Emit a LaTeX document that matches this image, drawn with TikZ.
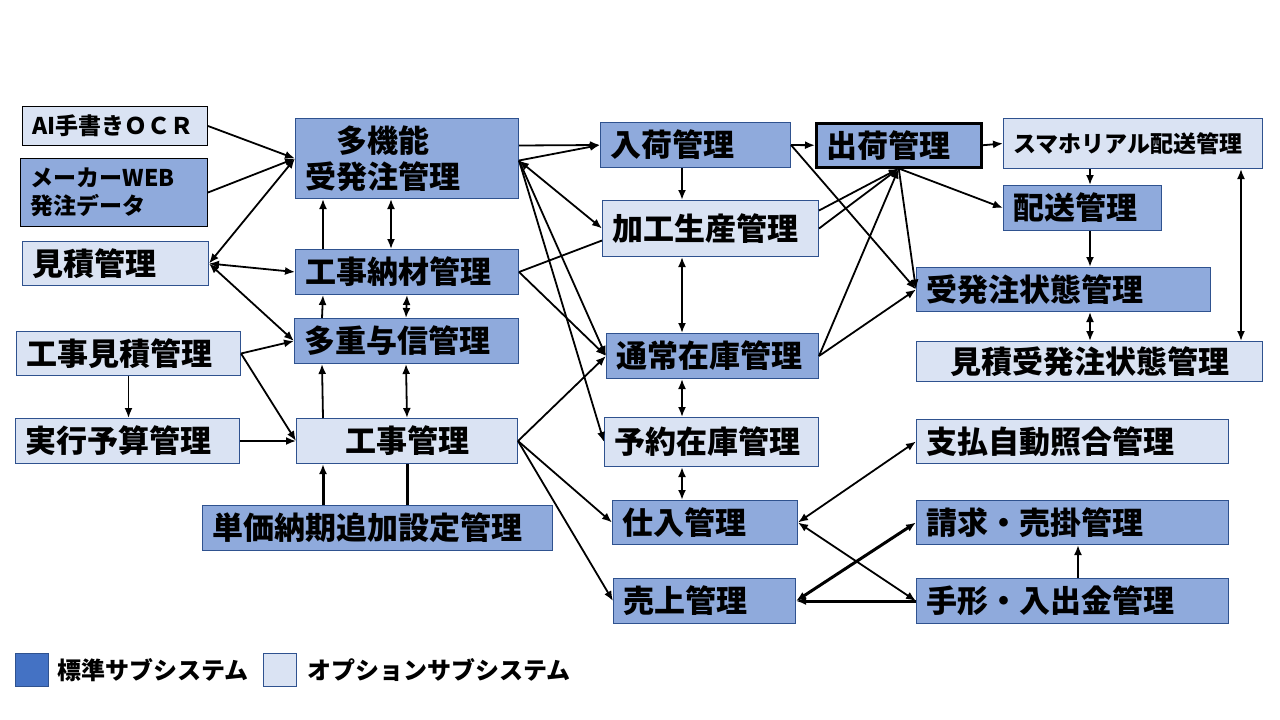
\documentclass[tikz,border=0pt]{standalone}
\usepackage{fontspec}
\setmainfont{Noto Sans CJK JP}
\usetikzlibrary{arrows.meta}

\definecolor{stdblue}{HTML}{8FAADC}
\definecolor{optblue}{HTML}{DAE3F3}
\definecolor{legblue}{HTML}{4472C4}
\definecolor{edgeblue}{HTML}{2F528F}

\tikzset{
    sys/.style={draw=edgeblue, line width=1pt, anchor=north west, inner xsep=10pt, inner ysep=0pt, align=left},
    std/.style={sys, fill=stdblue},
    opt/.style={sys, fill=optblue},
    big/.style={font=\fontsize{31}{36}\selectfont\bfseries},
    small/.style={font=\fontsize{23}{28}\selectfont\bfseries},
    arr/.style={-{Latex[length=10pt,width=8pt]}, line width=1.8pt},
    dbl/.style={{Latex[length=10pt,width=8pt]}-{Latex[length=10pt,width=8pt]}, line width=1.8pt},
}

\begin{document}
\begin{tikzpicture}[x=1pt, y=-1pt]
    \useasboundingbox (0,0) rectangle (1280,720);
    %input side
    \node[opt, small, draw=black, text width=165pt, minimum height=39pt] (ocr) at (22,106) {AI手書きＯＣＲ};
    \node[std, small, draw=black, text width=167pt, minimum height=68pt] (maker) at (20,158) {メーカーWEB\\発注データ};
    \node[opt, big, text width=166pt, minimum height=44pt] (mitsumori) at (22,241) {見積管理};
    \node[opt, big, text width=204pt, minimum height=44pt] (kmitsu) at (16,331) {工事見積管理};
    \node[opt, big, text width=204pt, minimum height=45pt] (yosan) at (15,418) {実行予算管理};
    %middle column
    \node[std, big, text width=203pt, minimum height=80pt] (tako) at (295,118) {　多機能\\受発注管理};
    \node[std, big, text width=203pt, minimum height=45pt] (nozai) at (295,249) {工事納材管理};
    \node[std, big, text width=204pt, minimum height=45pt] (yoshin) at (294,318) {多重与信管理};
    \node[opt, big, text width=201pt, minimum height=45pt, align=center] (koji) at (296,418) {工事管理};
    \node[std, big, text width=330pt, minimum height=45pt] (tanka) at (202,505) {単価納期追加設定管理};
    %stock column
    \node[std, big, text width=170pt, minimum height=45pt] (nyuka) at (600,122) {入荷管理};
    \node[opt, big, text width=196pt, minimum height=56pt] (kako) at (602,200) {加工生産管理};
    \node[std, big, text width=192pt, minimum height=45pt] (tsujo) at (606,333) {通常在庫管理};
    \node[opt, big, text width=194pt, minimum height=49pt] (yoyaku) at (604,417) {予約在庫管理};
    \node[std, big, text width=165pt, minimum height=44pt] (shiire) at (612,500) {仕入管理};
    \node[std, big, text width=162pt, minimum height=45pt] (uriage) at (613,578) {売上管理};
    %right side
    \node[std, big, draw=black, line width=2.5pt, text width=145pt, minimum height=44pt] (shukka) at (815,122) {出荷管理};
    \node[opt, small, text width=239pt, minimum height=50pt] (smaho) at (1003,118) {スマホリアル配送管理};
    \node[std, big, text width=138pt, minimum height=45pt] (haiso) at (1003,185) {配送管理};
    \node[std, big, text width=274pt, minimum height=44pt] (jotai) at (916,267) {受発注状態管理};
    \node[opt, big, text width=326pt, minimum height=40pt, align=center] (mjotai) at (916,341) {見積受発注状態管理};
    \node[opt, big, text width=292pt, minimum height=44pt] (shiharai) at (916,419) {支払自動照合管理};
    \node[std, big, text width=292pt, minimum height=44pt] (seikyu) at (916,500) {請求・売掛管理};
    \node[std, big, text width=292pt, minimum height=45pt] (tegata) at (916,578) {手形・入出金管理};
    %legend
    \node[draw=edgeblue, fill=legblue, line width=1pt, minimum size=33pt, inner sep=0pt, anchor=north west] (legstd) at (15,653) {};
    \node[font=\fontsize{24}{28}\selectfont\bfseries, anchor=west, inner sep=0pt] (legstdtxt) at ([xshift=8pt]legstd.east) {標準サブシステム};
    \node[draw=edgeblue, fill=optblue, line width=1pt, minimum size=33pt, inner sep=0pt, anchor=north west] (legopt) at (263,653) {};
    \node[font=\fontsize{24}{28}\selectfont\bfseries, anchor=west, inner sep=0pt] (legopttxt) at ([xshift=10pt]legopt.east) {オプションサブシステム};

    %left arrows
    \draw[arr] (ocr.east) -- (tako.west);
    \draw[arr] (maker.east) -- (tako.west);
    \draw[dbl] (mitsumori.east) -- (tako.west);
    \draw[dbl] (mitsumori.east) -- (nozai.west);
    \draw[dbl] (mitsumori.east) -- (yoshin.west);
    \draw[arr] (kmitsu.east) -- (yoshin.west);
    \draw[arr] (kmitsu.east) -- (koji.west);
    \draw[arr] (kmitsu.south) -- (kmitsu.south |- yosan.north);
    \draw[arr] (yosan.east) -- (koji.west);
    %middle verticals
    \draw[arr] ([xshift=28pt]nozai.north west) -- ([xshift=28pt]tako.south west);
    \draw[dbl] ([xshift=96pt]tako.south west) -- ([xshift=96pt]nozai.north west);
    \draw[arr] ([xshift=28pt]yoshin.north west) -- ([xshift=28pt]nozai.south west);
    \draw[dbl] ([xshift=112pt]nozai.south west) -- ([xshift=112pt]yoshin.north west);
    \draw[arr] ([xshift=27pt]koji.north west) -- ([xshift=28pt]yoshin.south west);
    \draw[dbl] ([xshift=112pt]yoshin.south west) -- ([xshift=111pt]koji.north west);
    \draw[arr, line width=3pt] ([xshift=121pt]tanka.north west) -- ([xshift=27pt]koji.south west);
    \draw[line width=3pt] ([xshift=205pt]tanka.north west) -- ([xshift=111pt]koji.south west);
    %to stock column
    \draw[arr] ([yshift=13pt]tako.east) -- (nyuka.west);
    \draw[arr] ([yshift=-2pt]tako.east) -- (nyuka.west);
    \draw[dbl] ([yshift=-2pt]tako.east) -- (kako.west);
    \draw[arr] ([yshift=-2pt]tako.east) -- (tsujo.west);
    \draw[arr] ([yshift=-2pt]tako.east) -- (yoyaku.west);
    \draw[line width=1.8pt] (nozai.east) -- ([yshift=-12pt]kako.west);
    \draw[arr] (nozai.east) -- (tsujo.west);
    \draw[arr] (koji.east) -- (tsujo.west);
    \draw[arr] (koji.east) -- (shiire.west);
    \draw[arr] (koji.east) -- (uriage.west);
    %stock verticals
    \draw[arr, line width=2.5pt] ([xshift=82pt]nyuka.south west) -- ([xshift=80pt]kako.north west);
    \draw[dbl] ([xshift=80pt]kako.south west) -- ([xshift=76pt]tsujo.north west);
    \draw[dbl] ([xshift=76pt]tsujo.south west) -- ([xshift=78pt]yoyaku.north west);
    \draw[dbl, line width=2.5pt] ([xshift=78pt]yoyaku.south west) -- ([xshift=70pt]shiire.north west);
    %shipping
    \draw[arr] (nyuka.east) -- (shukka.west);
    \draw[arr] (nyuka.east) -- (jotai.west);
    \draw[arr] (shukka.east) -- (smaho.west);
    \draw[arr] (shukka.south) -- (haiso.west);
    \draw[arr] (shukka.south) -- (jotai.west);
    \draw[arr] ([yshift=18pt]kako.east) -- (shukka.south);
    \draw[arr] (kako.east) -- (shukka.south);
    \draw[arr] (tsujo.east) -- (shukka.south);
    \draw[arr] (tsujo.east) -- (jotai.west);
    %right verticals
    \draw[arr] ([xshift=87pt]smaho.south west) -- ([xshift=87pt]haiso.north west);
    \draw[arr, line width=2.5pt] ([xshift=87pt]haiso.south west) -- ([xshift=174pt]jotai.north west);
    \draw[dbl] ([xshift=174pt]jotai.south west) -- ([xshift=174pt]mjotai.north west);
    \draw[dbl] ([xshift=-22pt]mjotai.north east) -- ([xshift=-22pt]smaho.south east);
    %accounting
    \draw[dbl] (shiharai.west) -- (shiire.east);
    \draw[dbl] (shiire.east) -- (tegata.west);
    \draw[dbl, line width=3pt] (uriage.east) -- (seikyu.west);
    \draw[arr, line width=3pt] (tegata.west) -- (uriage.east);
    \draw[arr, line width=2.5pt] ([xshift=162pt]tegata.north west) -- ([xshift=162pt]seikyu.south west);
\end{tikzpicture}
\end{document}
